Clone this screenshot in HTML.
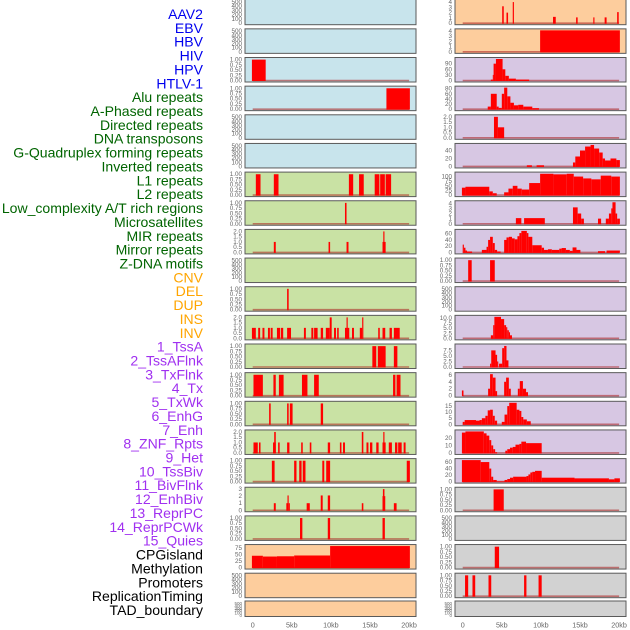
<!DOCTYPE html>
<html><head><meta charset="utf-8"><style>
html,body{margin:0;padding:0;background:#fff;}
svg{display:block;font-family:"Liberation Sans",sans-serif;}
</style></head><body>
<svg id="chart" width="630" height="630" viewBox="0 0 630 630"></svg>
<script>
const trackLabels=["AAV2","EBV","HBV","HIV","HPV","HTLV-1","Alu repeats","A-Phased repeats","Directed repeats","DNA transposons","G-Quadruplex forming repeats","Inverted repeats","L1 repeats","L2 repeats","Low_complexity A/T rich regions","Microsatellites","MIR repeats","Mirror repeats","Z-DNA motifs","CNV","DEL","DUP","INS","INV","1_TssA","2_TssAFlnk","3_TxFlnk","4_Tx","5_TxWk","6_EnhG","7_Enh","8_ZNF_Rpts","9_Het","10_TssBiv","11_BivFlnk","12_EnhBiv","13_ReprPC","14_ReprPCWk","15_Quies","CPGisland","Methylation","Promoters","ReplicationTiming","TAD_boundary"];
const labelColors=["#0000ee","#0000ee","#0000ee","#0000ee","#0000ee","#0000ee","#006400","#006400","#006400","#006400","#006400","#006400","#006400","#006400","#006400","#006400","#006400","#006400","#006400","#ffa500","#ffa500","#ffa500","#ffa500","#ffa500","#a030f0","#a030f0","#a030f0","#a030f0","#a030f0","#a030f0","#a030f0","#a030f0","#a030f0","#a030f0","#a030f0","#a030f0","#a030f0","#a030f0","#a030f0","#000","#000","#000","#000","#000"];
const xTickLabels=["0","5kb","10kb","15kb","20kb"];
const xTickValues=[0,5,10,15,20];
const E=["0","100","200","300","400","500"];
const P=["0.00","0.25","0.50","0.75","1.00"];
const leftTicks=[E,E,P,P,E,E,P,P,["0.0","0.5","1.0","1.5","2.0"],E,P,["0.0","0.5","1.0","1.5","2.0"],P,P,P,["0.0","0.5","1.0","1.5","2.0"],P,["0","1","2","3"],P,["0","25","50","75"],E,E];
const leftMax=[520,520,1.03,1.03,520,520,1.03,1.03,2.05,520,1.03,2.05,1.03,1.03,1.03,2.05,1.03,3.05,1.03,82,520,520];
const leftSegs=[[],[],[[-0.1,1.66,1]],[[17.1,20.1,1]],[],[],
[[0.4,1.0,1],[2.7,3.3,1],[12.3,12.85,1],[13.6,14.2,1],[15.6,16.2,1],[16.3,16.9,1],[17.0,17.7,1]],
[[11.8,12.0,1]],
[[2.7,2.95,1],[9.7,9.9,1],[12.0,12.25,1],[16.6,17.0,1],[16.7,16.85,2]],
[],
[[4.4,4.6,1]],
[[-0.1,0.4,1],[0.7,0.95,1],[1.25,1.5,1],[1.95,2.2,1],[2.3,2.55,1],[3.1,3.5,1],[3.6,3.9,1],[4.4,4.9,1],[6.55,6.8,1],[7.5,7.75,1],[7.85,8.3,1],[8.7,9.0,1],[9.35,9.85,1],[9.85,10.1,2],[10.4,10.65,1],[10.8,11.0,1],[11.8,12.35,1],[12.0,12.15,2],[12.7,12.95,1],[13.7,14.0,1],[14.0,14.15,2],[16.05,16.25,1],[16.6,16.95,1],[17.5,17.8,1],[18.05,18.8,1]],
[[15.3,15.8,1],[16.0,17.0,1],[18.05,18.5,1]],
[[0.1,1.3,1],[2.65,2.95,1],[3.35,3.95,1],[6.3,7.0,1],[7.85,8.45,1],[17.95,18.25,1],[18.4,18.9,1]],
[[2.1,2.3,1],[4.4,4.6,1],[4.75,5.1,1],[8.7,9.0,1]],
[[0.1,0.65,1],[0.8,1.0,1],[2.6,2.95,1],[2.75,2.95,2],[3.25,3.45,1],[4.4,4.7,1],[6.2,6.4,1],[7.3,7.5,1],[9.6,9.9,1],[11.15,11.35,1],[11.55,11.8,1],[13.95,14.15,2],[14.55,14.8,1],[15.0,15.3,1],[15.8,16.1,1],[16.6,17.0,1],[16.7,16.85,2],[17.4,17.8,1],[18.2,18.5,1],[18.6,19.05,1],[19.3,19.55,1]],
[[2.45,2.8,1],[5.3,5.6,1],[5.95,6.25,1],[6.4,6.75,1],[8.9,9.15,1],[9.4,9.9,1],[19.7,20.1,1]],
[[2.7,2.95,1],[4.3,4.45,1],[4.45,4.6,2.1],[4.6,4.75,1],[6.9,7.3,1],[8.7,8.95,2.1],[9.6,9.9,2.1],[13.95,14.15,1],[16.6,16.95,2],[16.65,16.85,3],[18.05,18.4,1]],
[[6.05,6.35,1],[9.6,9.9,1],[16.6,16.9,1]],
[[-0.1,1.3,45],[1.3,3.1,42],[3.1,5.3,43],[5.3,9.9,46],[9.9,20.1,82]],
[],[]];
const rightTicks=[["0","1","2","3","4"],["0","1","2","3","4"],["0","30","60","90"],["0","20","40","60","80"],["0.0","0.5","1.0","1.5","2.0"],["0","20","40"],["0","25","50","75","100"],["0","1","2","3","4"],["0","20","40","60"],P,E,["0.0","2.5","5.0","7.5","10.0"],["0.0","2.5","5.0","7.5"],["0","2","4","6"],["0","5","10","15"],["0","10","20"],["0","20","40","60"],P,E,P,P,E];
const rightMax=[4.2,4.1,115,84,2.05,54,116,4.2,69,1.03,520,10.6,9.7,6.2,17.7,28.5,66,1.03,520,1.03,1.03,520];
const rightSegs=[
[[5.05,5.25,3.2],[5.6,5.8,2],[6.4,6.55,4],[11.55,11.9,1.2],[14.5,14.7,1.1],[16.7,16.85,1.1],[18.15,18.4,1.1],[19.75,19.95,2.1]],
[[9.9,20.1,4.1]],
[[3.6,3.85,5],[3.85,3.95,30],[3.95,4.25,90],[4.25,5.1,115],[5.1,5.45,60],[5.45,5.9,25],[5.9,6.8,10],[6.8,8.5,5]],
[[3.2,3.6,10],[3.6,4.35,60],[4.35,4.6,10],[4.6,5.0,5],[5.0,5.3,60],[5.3,5.7,84],[5.7,6.1,50],[6.1,6.55,25],[6.55,7.1,15],[7.1,7.75,17],[7.75,8.9,10],[8.9,9.75,4]],
[[4.0,4.5,2],[4.5,5.3,1]],
[[8.2,8.85,3],[9.45,10.4,3],[14.1,14.4,10],[14.4,15.0,25],[15.0,15.65,40],[15.65,16.35,50],[16.35,16.8,54],[16.8,17.45,45],[17.45,17.9,35],[17.9,18.2,20],[18.2,18.9,15],[18.9,19.65,20],[19.65,20.1,16]],
[[-0.1,0.35,40],[0.35,3.4,45],[3.4,3.85,20],[3.85,4.35,10],[5.3,5.85,15],[5.85,6.4,35],[6.4,7.0,50],[7.0,7.55,35],[7.55,8.5,30],[8.5,9.9,65],[9.9,11.6,115],[11.6,13.3,112],[13.3,14.2,115],[14.2,15.4,100],[15.4,16.45,90],[16.45,17.65,85],[17.65,19.0,105],[19.0,20.1,100]],
[[6.8,7.5,1.1],[7.85,10.5,1.1],[14.1,14.7,3.2],[14.7,15.15,2],[15.15,15.5,1],[17.3,17.7,1],[18.3,18.7,1],[18.7,19.0,2],[19.0,19.15,3],[19.15,19.55,4.2],[19.55,19.75,2],[19.75,20.1,1]],
[[0.0,0.15,25],[0.15,0.35,15],[0.35,0.55,6],[0.55,1.2,3],[2.45,3.05,8],[3.05,3.25,18],[3.25,3.5,40],[3.5,3.85,50],[3.85,4.1,30],[4.1,4.4,8],[4.4,4.85,3],[5.3,5.6,40],[5.6,5.9,48],[5.9,6.3,50],[6.3,6.65,45],[6.65,7.0,42],[7.0,7.25,52],[7.25,7.5,62],[7.5,8.2,69],[8.2,8.4,62],[8.4,8.9,50],[8.9,10.1,23],[10.1,10.4,15],[10.4,10.9,8],[10.9,11.4,10],[11.4,12.35,8],[12.35,12.65,12],[12.65,13.2,14],[13.2,13.7,8],[13.7,14.05,5],[14.05,14.55,16],[14.55,15.05,8],[17.3,18.2,4],[18.4,20.1,6]],
[[0.7,1.15,1],[3.5,4.1,1]],
[],
[[3.6,3.9,1.5],[3.9,4.05,6.5],[4.05,4.9,10.6],[4.9,5.3,9.5],[5.3,5.55,6.5],[5.55,5.7,5.5],[5.7,5.9,4],[5.9,6.05,3],[6.05,6.3,1.5]],
[[3.5,3.65,1.5],[3.65,4.2,7.5],[4.2,4.4,5.5],[4.4,4.55,2.5],[4.65,5.05,1.5],[5.05,5.3,8.5],[5.3,5.6,9.5],[5.6,5.85,3]],
[[-0.1,0.1,1.5],[3.25,3.5,2],[3.5,3.85,6.2],[3.85,4.2,5.2],[4.2,4.4,1.3],[5.3,5.55,4],[5.55,5.9,5.2],[5.9,6.15,2],[7.05,7.3,2],[7.3,7.7,4.2],[7.7,8.1,2],[8.1,8.35,1]],
[[0.0,0.25,2],[0.25,1.7,3.5],[1.7,2.15,3],[2.15,2.45,3.5],[2.45,2.9,5],[2.9,3.2,7],[3.2,3.5,11.5],[3.5,3.85,12],[3.85,4.1,7],[4.1,4.4,3],[5.0,5.35,2],[5.35,5.7,8],[5.7,5.95,15],[5.95,6.9,17.7],[6.9,7.25,12],[7.25,7.5,11],[7.5,7.75,6],[7.75,8.2,4],[8.2,8.7,2.5]],
[[-0.1,0.35,27],[0.35,2.7,28.5],[2.7,3.05,26],[3.05,3.4,23],[3.4,3.65,17],[3.65,3.9,10],[3.9,4.15,5],[4.15,4.4,1],[5.45,5.7,3],[5.7,6.05,5],[6.05,6.4,7],[6.4,6.75,8],[6.75,7.25,11],[7.25,7.5,12],[7.5,8.1,15],[8.1,10.1,13]],
[[-0.1,2.3,66],[2.3,3.4,60],[3.4,3.65,40],[3.65,3.9,15],[3.9,4.35,5],[4.35,5.35,0.5],[5.35,5.7,5],[5.7,6.05,8],[6.05,6.45,12],[6.45,8.15,15],[8.15,8.4,17],[8.4,8.65,22],[8.65,8.9,28],[8.9,9.25,30],[9.25,10.1,33],[10.1,14.3,12],[14.3,18.7,10],[18.7,19.4,7],[19.4,20.1,10]],
[[3.95,5.25,1]],
[],
[[4.1,4.65,1]],
[[0.3,0.7,1],[1.25,1.6,1],[3.3,3.65,1],[7.85,8.15,1],[9.7,10.1,1]],
[]];
const leftBg=["#c8e4ec","#c8e4ec","#c8e4ec","#c8e4ec","#c8e4ec","#c8e4ec","#c9e2a4","#c9e2a4","#c9e2a4","#c9e2a4","#c9e2a4","#c9e2a4","#c9e2a4","#c9e2a4","#c9e2a4","#c9e2a4","#c9e2a4","#c9e2a4","#c9e2a4","#fdcd9d","#fdcd9d","#fdcd9d"];
const rightBg=["#fdcd9d","#fdcd9d","#d7c7e3","#d7c7e3","#d7c7e3","#d7c7e3","#d7c7e3","#d7c7e3","#d7c7e3","#d7c7e3","#d7c7e3","#d7c7e3","#d7c7e3","#d7c7e3","#d7c7e3","#d7c7e3","#d7c7e3","#d2d2d2","#d2d2d2","#d2d2d2","#d2d2d2","#d2d2d2"];

const NS="http://www.w3.org/2000/svg";
const svg=document.getElementById('chart');
function mk(tag,attrs,parent){const e=document.createElementNS(NS,tag);for(const k in attrs)e.setAttribute(k,attrs[k]);(parent||svg).appendChild(e);return e;}

trackLabels.forEach((t,i)=>{
  const el=mk('text',{x:203,y:14+i*13.86+5,'text-anchor':'end','font-size':'14.05',fill:labelColors[i]});
  el.textContent=t;
  
  
});

function rowBox(i){
  if(i===21) return {top:601,bot:616.5};
  const top=i===0?-0.5:i*28.65+0.2;
  return {top:top,bot:i*28.65+24.7};
}
function drawCol(col,px0,px1,x0,ticksArr,maxArr,segsArr,bgArr,tickX){
  const xs=kb=>x0+kb*7.82;
  for(let i=0;i<22;i++){
    const b=rowBox(i);
    const g=mk('g',{});
    
    
    const bg=mk('rect',{x:px0,y:b.top,width:px1-px0,height:b.bot-b.top,fill:bgArr[i],stroke:'#5a5a5a','stroke-width':1},g);
    
    
    const y0=b.bot-1.5, yt=b.top+1.5;
    const ys=v=>y0-Math.min(v,maxArr[i])/maxArr[i]*(y0-yt);
    const segs=segsArr[i];
    if(segs.length){
      const bl=mk('line',{x1:xs(0),x2:xs(20),y1:y0,y2:y0,stroke:'rgba(170,30,30,0.55)','stroke-width':1.6},g);
      
      
    }
    segs.forEach(s=>{
      const r=mk('rect',{x:xs(s[0]),y:ys(s[2]),width:Math.max(0.8,xs(s[1])-xs(s[0])),height:y0-ys(s[2])+0.5,fill:'#ff0000'},g);
      
      
    });
    const tl=ticksArr[i];
    const fs=i===21?4.5:6.3;
    tl.forEach(t=>{
      const v=parseFloat(t);
      const tx=mk('text',{x:tickX,y:ys(v)+2,'text-anchor':'end','font-size':fs,fill:'#666'},g);
      tx.textContent=t;
      
      
    });
  }
  xTickValues.forEach((v,k)=>{
    const tx=mk('text',{x:xs(v),y:627.5,'text-anchor':'middle','font-size':7.2,fill:'#666'});
    tx.textContent=xTickLabels[k];
    
    
  });
}
drawCol('left',245,416,252.7,leftTicks,leftMax,leftSegs,leftBg,242);
drawCol('right',455,626,462.7,rightTicks,rightMax,rightSegs,rightBg,452);
</script>
</body></html>
